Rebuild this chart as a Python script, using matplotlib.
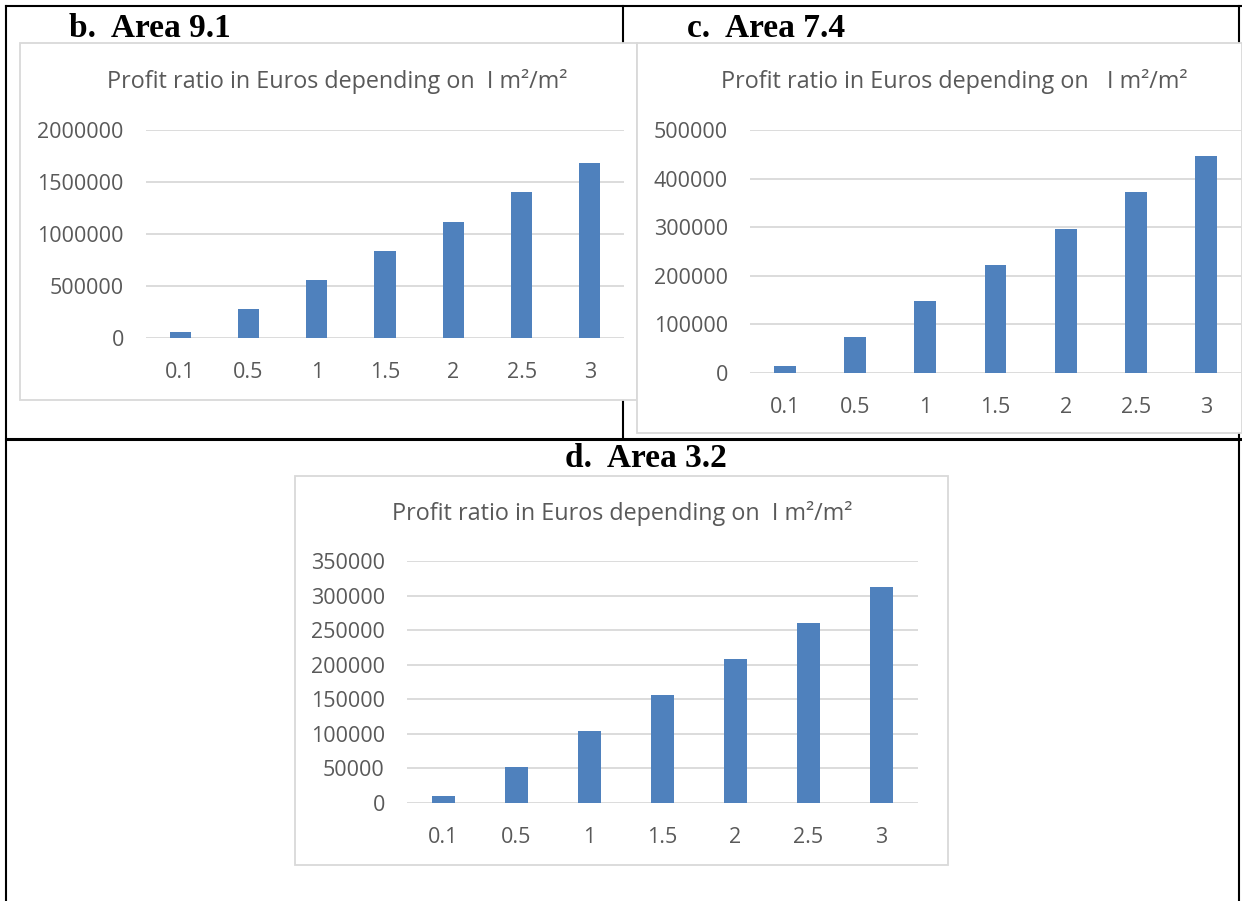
import matplotlib.pyplot as plt
from matplotlib.patches import Rectangle
from matplotlib.lines import Line2D
from matplotlib.ticker import StrMethodFormatter

W, H = 1242, 901

# Profit values per I (m²/m²) for each area
ratios = ['0.1', '0.5', '1', '1.5', '2', '2.5', '3']
profit_b = [56000, 280000, 560000, 840000, 1120000, 1400000, 1680000]
profit_c = [15000, 74000, 149000, 223000, 297000, 372000, 446000]
profit_d = [10400, 52000, 104000, 156000, 208000, 260000, 312000]

chart_title = 'Profit ratio in Euros depending on  I m\u00b2/m\u00b2'
gray = '#595959'
grid_gray = '#D9D9D9'
bar_blue = '#4F81BD'
txt_font = ['Open Sans', 'DejaVu Sans']


def fx(x):
    return x / W


def fy(y):
    return 1 - y / H


def rect(x0, y0, x1, y1):
    return [fx(x0), fy(y1), (x1 - x0) / W, (y1 - y0) / H]


fig = plt.figure(figsize=(W / 100, H / 100), dpi=100)

# table lines
def hline(y, x0, x1, lw=1.5):
    fig.add_artist(Line2D([fx(x0), fx(x1)], [fy(y), fy(y)], color='black', lw=lw, zorder=-2))


def vline(x, y0, y1, lw=1.5):
    fig.add_artist(Line2D([fx(x), fx(x)], [fy(y0), fy(y1)], color='black', lw=lw, zorder=-2))


hline(6, 6, W)
hline(439, 6, W, lw=2.2)
vline(6, 6, H)
vline(623, 6, 439)
vline(1239, 6, H)

# chart frames
for x0, y0, x1, y1 in [(20, 43, 637, 400), (637, 43, 1242, 433), (295, 476, 948, 865)]:
    fig.add_artist(Rectangle((fx(x0), fy(y1)), (x1 - x0) / W, (y1 - y0) / H,
                             transform=fig.transFigure, facecolor='white',
                             edgecolor=grid_gray, lw=1.3, zorder=-1))

# panel headings
head = dict(family='Liberation Serif', fontweight='bold', fontsize=24, va='baseline')
fig.text(fx(69), fy(37), 'b.  Area 9.1', ha='left', **head)
fig.text(fx(687), fy(37), 'c.  Area 7.4', ha='left', **head)
fig.text(fx(646), fy(467), 'd.  Area 3.2', ha='center', **head)


def bar_chart(pos, values, ymax, step, title, title_xy):
    ax = fig.add_axes(rect(*pos))
    ax.set_facecolor('none')
    x = range(len(ratios))
    ax.bar(x, values, width=0.31, color=bar_blue, zorder=3)
    ax.set_xlim(-0.5, len(ratios) - 0.5)
    ax.set_ylim(0, ymax)
    ax.set_yticks(range(0, ymax + 1, step))
    ax.yaxis.set_major_formatter(StrMethodFormatter('{x:.0f}'))
    ax.set_xticks(list(x))
    ax.set_xticklabels(ratios)
    ax.yaxis.grid(True, color=grid_gray, lw=1.3, zorder=0)
    ax.set_axisbelow(True)
    for s in ax.spines.values():
        s.set_visible(False)
    ax.tick_params(axis='both', length=0, colors=gray, labelsize=15.5)
    ax.tick_params(axis='y', pad=16)
    ax.tick_params(axis='x', pad=17)
    for lab in ax.get_xticklabels() + ax.get_yticklabels():
        lab.set_family(txt_font)
    fig.text(fx(title_xy[0]), fy(title_xy[1]), title, ha='center', va='center',
             color=gray, fontsize=16.8, family=txt_font)
    return ax


bar_chart((146, 130, 624, 338), profit_b, 2000000, 500000, chart_title, (337, 82))
bar_chart((750, 130, 1241, 373), profit_c, 500000, 100000,
          'Profit ratio in Euros depending on   I m\u00b2/m\u00b2', (954, 82))
bar_chart((407, 561, 918, 803), profit_d, 350000, 50000, chart_title, (622, 513))

fig.savefig('out.png', dpi=100)
